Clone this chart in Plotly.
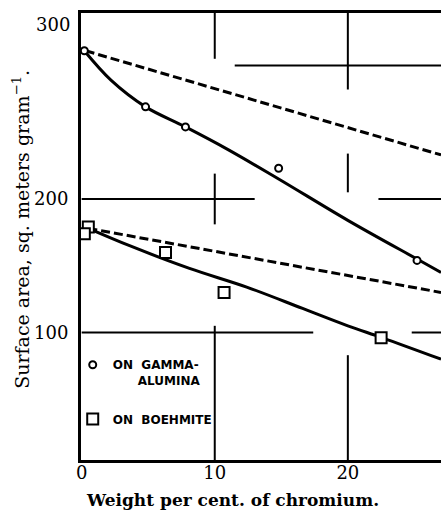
import plotly.graph_objects as go

# ---------------- data ----------------
# measured points, gamma-alumina support
gamma_x = [0.2, 4.8, 7.8, 14.8, 25.2]
gamma_y = [311, 269, 254, 223, 154]
# measured points, boehmite support
boeh_x = [0.5, 0.2, 6.3, 10.7, 22.5]
boeh_y = [179, 174, 160, 130, 96]
# drawn solid curve through gamma-alumina points
gamma_fit_x = [0.2, 2.2, 4.8, 7.8, 11.0, 14.8, 20.0, 25.2, 27.0]
gamma_fit_y = [311, 289, 269, 254, 237, 215, 184, 155, 145]
# dashed reference line, gamma-alumina
gamma_dash_x = [0.3, 27.0]
gamma_dash_y = [311, 233]
# drawn solid curve through boehmite points
boeh_fit_x = [0.5, 3.6, 8.1, 12.4, 16.6, 20.0, 22.6, 27.0]
boeh_fit_y = [178, 165, 148, 134, 118, 105, 96, 80]
# dashed reference line, boehmite
boeh_dash_x = [0.5, 27.0]
boeh_dash_y = [178, 130]

x_ticks = [0, 10, 20]
y_ticks = [100, 200]
legend_gamma = "ON\u00a0\u00a0GAMMA-<br>\u00a0\u00a0\u00a0\u00a0\u00a0\u00a0ALUMINA"
legend_boeh = "ON\u00a0\u00a0BOEHMITE"

# ---------------- figure ----------------
fig = go.Figure()

fig.add_trace(go.Scatter(x=gamma_dash_x, y=gamma_dash_y, mode="lines",
                         line=dict(color="black", width=3, dash="9px,4px"),
                         showlegend=False, hoverinfo="skip"))
fig.add_trace(go.Scatter(x=boeh_dash_x, y=boeh_dash_y, mode="lines",
                         line=dict(color="black", width=3, dash="9px,4px"),
                         showlegend=False, hoverinfo="skip"))
fig.add_trace(go.Scatter(x=gamma_fit_x, y=gamma_fit_y, mode="lines",
                         line=dict(color="black", width=3, shape="spline", smoothing=1.0),
                         showlegend=False, hoverinfo="skip"))
fig.add_trace(go.Scatter(x=boeh_fit_x, y=boeh_fit_y, mode="lines",
                         line=dict(color="black", width=3, shape="spline", smoothing=1.0),
                         showlegend=False, hoverinfo="skip"))
fig.add_trace(go.Scatter(x=gamma_x, y=gamma_y, mode="markers", name=legend_gamma,
                         legendgroup="g",
                         marker=dict(symbol="circle", size=7, color="white",
                                     line=dict(color="black", width=2))))
fig.add_trace(go.Scatter(x=boeh_x, y=boeh_y, mode="markers", name=legend_boeh,
                         legendgroup="b",
                         marker=dict(symbol="square", size=11, color="white",
                                     line=dict(color="black", width=2))))

# hand-drawn style broken grid segments (x0, x1, y0, y1) in data units
X_END = 27.1
grid_segments = [
    (11.5, X_END, 300, 300),
    (0, 13.0, 200, 200), (22.3, X_END, 200, 200),
    (0, 17.4, 100, 100), (24.8, X_END, 100, 100),
    (10, 10, 340, 305), (10, 10, 219, 181), (10, 10, 105, 4),
    (20, 20, 340, 282), (20, 20, 234, 205), (20, 20, 83, 4),
]
for x0, x1, y0, y1 in grid_segments:
    fig.add_shape(type="line", xref="x", yref="y", x0=x0, x1=x1, y0=y0, y1=y1,
                  line=dict(color="black", width=2), layer="below")

serif = "DejaVu Serif"

fig.update_layout(
    width=441, height=518,
    margin=dict(l=81, r=0, t=13, b=58),
    paper_bgcolor="white", plot_bgcolor="white",
    showlegend=True,
    legend=dict(x=-0.023, y=0.245, xanchor="left", yanchor="top",
                xref="paper", yref="paper",
                bgcolor="rgba(0,0,0,0)", valign="top",
                traceorder="grouped", tracegroupgap=20,
                font=dict(family="DejaVu Sans", size=12, color="black", weight="bold")),
    xaxis=dict(range=[-0.05, 27.0], tickvals=x_ticks, showgrid=False, zeroline=False,
               showline=True, linecolor="black", linewidth=3, mirror=True,
               ticks="", ticklabelstandoff=-6,
               tickfont=dict(family=serif, size=18, color="black")),
    yaxis=dict(range=[4.5, 339.3], tickvals=y_ticks, showgrid=False, zeroline=False,
               showline=True, linecolor="black", linewidth=3,
               ticks="", ticklabelstandoff=6,
               tickfont=dict(family=serif, size=18, color="black")),
    annotations=[
        dict(text="300", xref="paper", yref="paper", x=-0.025, y=0.975,
             xanchor="right", yanchor="middle", showarrow=False,
             font=dict(family=serif, size=18, color="black")),
        dict(text="Weight per cent. of chromium.", xref="paper", yref="paper",
             x=(232 - 81) / 360, y=-0.09, xanchor="center", yanchor="middle",
             showarrow=False,
             font=dict(family=serif, size=17, color="black", weight="bold")),
        dict(text="Surface area, sq. meters gram<sup>\u22121</sup>.", xref="paper",
             yref="paper", x=(21 - 81) / 360, y=0.515, xanchor="center",
             yanchor="middle", textangle=-90, showarrow=False,
             font=dict(family=serif, size=19, color="black")),
    ],
)

fig.write_html("out.html")
